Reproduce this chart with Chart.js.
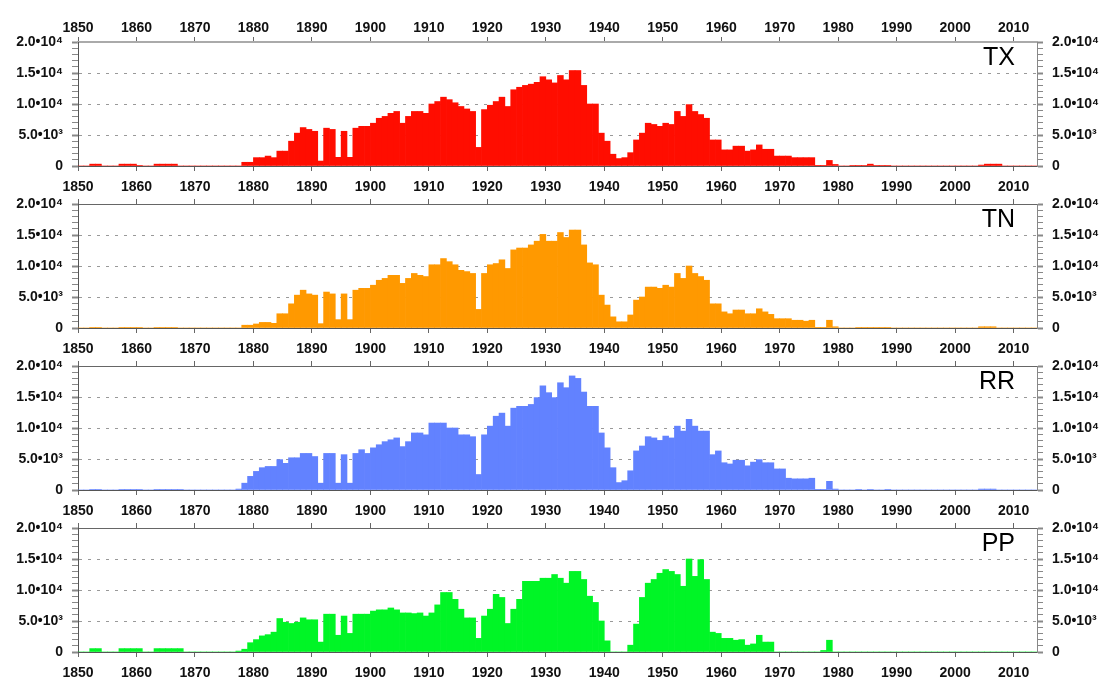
<!DOCTYPE html>
<html>
<head>
<meta charset="utf-8">
<script src="https://cdn.jsdelivr.net/npm/chart.js@4"></script>
<style>
  body { margin: 0; background: #fff; overflow: hidden; }
  #wrap { position: relative; width: 1104px; height: 679px; }
  canvas { position: absolute; left: 0; }
</style>
</head>
<body>
<div id="wrap"></div>
<script>
// one value per year, 1850 .. 2013
const firstYear = 1850;
const xTickYears = [1850, 1860, 1870, 1880, 1890, 1900, 1910, 1920,
                    1930, 1940, 1950, 1960, 1970, 1980, 1990, 2000, 2010];

const tx = [
  0, 0, 300, 300, 0, 0, 0, 300, 300, 300,                              // 1850s
  100, 0, 0, 300, 300, 300, 300, 0, 0, 0,                              // 1860s
  0, 0, 0, 0, 0, 0, 0, 0, 600, 600,                                    // 1870s
  1350, 1350, 1600, 1350, 2400, 2400, 4000, 5300, 6200, 5900,          // 1880s
  5600, 800, 6100, 5900, 1400, 5600, 1400, 6100, 6400, 6400,           // 1890s
  6900, 7700, 8000, 8500, 8800, 6900, 8000, 8800, 8800, 8500,          // 1900s
  10000, 10400, 11100, 10700, 10200, 9600, 9200, 8800, 3000, 9100,     // 1910s
  9800, 10400, 11100, 9600, 12300, 12700, 13000, 13200, 13500, 14400,  // 1920s
  13900, 13400, 14600, 13900, 15400, 15400, 13000, 10000, 10000, 5300, // 1930s
  4000, 1900, 1200, 1350, 2150, 4200, 5300, 6900, 6700, 6400,          // 1940s
  6900, 6700, 8800, 8000, 9900, 8800, 8300, 7700, 4200, 4200,          // 1950s
  2600, 2600, 3200, 3200, 2400, 2600, 3400, 2700, 2700, 1600,          // 1960s
  1600, 1600, 1350, 1350, 1350, 1350, 50, 50, 900, 250,                // 1970s
  0, 0, 100, 100, 100, 300, 100, 100, 100, 0,                          // 1980s
  0, 0, 0, 0, 0, 0, 0, 0, 0, 0,                                        // 1990s
  0, 0, 0, 0, 150, 300, 300, 300, 0, 0,                                // 2000s
  0, 0, 0, 0                                                           // 2010s
];

const tn = [
  0, 0, 100, 100, 0, 0, 0, 100, 100, 100,
  100, 0, 0, 100, 100, 100, 100, 0, 0, 0,
  0, 0, 0, 0, 0, 0, 0, 0, 450, 450,
  650, 900, 900, 750, 2300, 2300, 3900, 5300, 6100, 5500,
  5300, 700, 5800, 5500, 1350, 5500, 1350, 6100, 6400, 6400,
  6900, 7700, 8000, 8500, 8500, 7200, 8000, 8800, 8500, 8300,
  10200, 10200, 11200, 10700, 10200, 9300, 9100, 8800, 3000, 8800,
  10200, 10400, 11000, 9600, 12600, 12900, 12900, 13400, 14000, 15100,
  14000, 14000, 15400, 14600, 15800, 15800, 13400, 10500, 10200, 5300,
  3700, 1800, 1000, 1000, 2100, 4500, 5000, 6600, 6600, 6400,
  6900, 6600, 8800, 8000, 10000, 8800, 8300, 7700, 3900, 3900,
  2600, 2300, 2900, 2900, 2300, 2300, 3100, 2600, 2200, 1500,
  1500, 1500, 1250, 1250, 1100, 1250, 50, 50, 1250, 200,
  0, 0, 0, 100, 100, 100, 100, 100, 100, 0,
  0, 0, 0, 0, 0, 0, 0, 0, 0, 0,
  0, 0, 0, 0, 200, 200, 200, 0, 0, 0,
  0, 0, 0, 0
];

const rr = [
  0, 0, 100, 100, 0, 0, 0, 100, 100, 100,
  100, 0, 0, 100, 100, 100, 100, 100, 0, 0,
  0, 0, 0, 0, 0, 0, 0, 150, 1100, 2200,
  3000, 3600, 3800, 3800, 4900, 4300, 5200, 5200, 5900, 5900,
  5400, 1100, 5900, 5900, 1100, 5700, 1100, 5900, 6500, 5900,
  6800, 7300, 7800, 8100, 8400, 7000, 7800, 9200, 9200, 8900,
  10800, 10800, 10800, 10000, 10000, 8900, 8900, 8600, 2500, 8900,
  10300, 11900, 12400, 10300, 13200, 13500, 13500, 13800, 14900, 16800,
  15700, 14900, 17300, 16500, 18400, 18000, 15800, 13500, 13500, 9200,
  6800, 3600, 1200, 1500, 3100, 6300, 7100, 8600, 8400, 8000,
  8700, 8400, 10300, 9500, 11400, 10300, 9500, 9500, 5700, 6300,
  4400, 4200, 4800, 4800, 3900, 4500, 4900, 4400, 4400, 3400,
  3400, 1900, 1800, 1800, 1800, 1900, 50, 50, 1400, 150,
  0, 0, 0, 100, 0, 100, 0, 0, 100, 0,
  0, 0, 0, 0, 0, 0, 0, 0, 0, 0,
  0, 0, 0, 0, 150, 150, 150, 0, 0, 0,
  0, 0, 0, 0
];

const pp = [
  0, 0, 550, 550, 0, 0, 0, 550, 550, 550,
  550, 0, 0, 550, 550, 550, 550, 550, 0, 0,
  0, 0, 0, 0, 0, 0, 0, 150, 450, 1500,
  2000, 2600, 2800, 3200, 5400, 4800, 4600, 4800, 5500, 5200,
  5200, 1600, 6100, 6100, 2700, 5800, 3000, 6100, 6100, 6100,
  6600, 6800, 6800, 7100, 6800, 6300, 6300, 6200, 6300, 5800,
  6300, 7600, 9600, 9600, 8500, 6900, 5500, 5500, 2200, 5800,
  6900, 9300, 8800, 4600, 6900, 8500, 11400, 11400, 11400, 11900,
  11900, 12500, 11900, 11100, 13000, 13000, 11700, 9000, 8000, 5000,
  1800, 0, 0, 0, 1100, 4500, 8800, 11100, 11700, 12700,
  13300, 13000, 12500, 10600, 15000, 12200, 14900, 11700, 3200, 3000,
  2200, 2200, 1900, 2000, 1100, 1300, 2700, 1600, 1600, 0,
  0, 0, 0, 0, 0, 0, 0, 250, 1900, 0,
  0, 0, 0, 0, 0, 0, 0, 0, 0, 0,
  0, 0, 0, 0, 0, 0, 0, 0, 0, 0,
  0, 0, 0, 0, 0, 0, 0, 0, 0, 0,
  0, 0, 0, 0
];

const panelNames = ['TX', 'TN', 'RR', 'PP'];
const panelColors = ['#ff0d00', '#ff9900', '#6282ff', '#00f526'];
const yTickLabels = { 0: '0', 5000: '5.0\u202210\u00b3', 10000: '1.0\u202210\u2074',
                      15000: '1.5\u202210\u2074', 20000: '2.0\u202210\u2074' };

Chart.defaults.font.family = '"Liberation Sans", Arial, sans-serif';
Chart.defaults.font.size = 14;
Chart.defaults.font.weight = 'bold';
Chart.defaults.color = '#111';

// draws TX / TN / RR / PP in the top right corner of each panel
const panelLabel = {
  id: 'panelLabel',
  afterDraw(chart, args, opts) {
    const { ctx, chartArea } = chart;
    ctx.save();
    ctx.font = '25px "Liberation Sans", Arial, sans-serif';
    ctx.fillStyle = '#000';
    ctx.textAlign = 'right';
    ctx.textBaseline = 'middle';
    ctx.fillText(opts.text, chartArea.right - 22, chartArea.top + 16);
    ctx.restore();
  }
};

const PANEL_STEP = 162;
const TOP_H = 42, PLOT_H = 124, BOTTOM_H = 30, LEFT_W = 78, RIGHT_W = 67;

function decadeTicks(scale) {
  scale.ticks = xTickYears.map(v => ({ value: v }));
}

function yAxis(pos, onArea) {
  return {
    position: pos,
    min: 0, max: 20000,
    afterFit: s => { s.width = pos === 'left' ? LEFT_W : RIGHT_W; },
    ticks: {
      stepSize: 1000, autoSkip: false, padding: 9,
      callback: v => (v in yTickLabels ? yTickLabels[v] : '')
    },
    grid: {
      drawOnChartArea: onArea,
      tickLength: 6,
      tickColor: '#888',
      tickWidth: c => (c.tick && c.tick.value % 5000 === 0 ? 2 : 1),
      color: c => (c.tick && c.tick.value % 5000 === 0 && c.tick.value > 0 && c.tick.value < 20000) ? '#999' : 'rgba(0,0,0,0)'
    },
    border: { color: pos === 'left' ? '#555' : '#888', dash: [3, 6] }
  };
}

function makePanel(i, values) {
  const canvas = document.createElement('canvas');
  canvas.width = 1104;
  canvas.height = TOP_H + PLOT_H + BOTTOM_H;
  canvas.style.top = (i * PANEL_STEP) + 'px';
  document.getElementById('wrap').appendChild(canvas);

  const data = values.map((v, k) => ({ x: firstYear + k + 0.5, y: v }));

  new Chart(canvas, {
    type: 'bar',
    data: {
      datasets: [{
        data: data,
        backgroundColor: panelColors[i],
        borderWidth: 0,
        barPercentage: 1,
        categoryPercentage: 1,
        xAxisID: 'x',
        yAxisID: 'y'
      }]
    },
    options: {
      responsive: false,
      animation: false,
      layout: { padding: 0 },
      plugins: {
        legend: { display: false },
        tooltip: { enabled: false },
        panelLabel: { text: panelNames[i] }
      },
      scales: {
        x: {
          type: 'linear', position: 'bottom', min: 1850, max: 2014, offset: false,
          afterBuildTicks: decadeTicks,
          afterFit: s => { s.height = BOTTOM_H; },
          ticks: { autoSkip: false, padding: 8, maxRotation: 0, callback: v => String(v) },
          grid: { drawOnChartArea: false, offset: false, tickLength: 5, tickColor: '#666' },
          border: { color: '#555' }
        },
        x2: {
          type: 'linear', position: 'top', min: 1850, max: 2014, offset: false,
          afterBuildTicks: decadeTicks,
          afterFit: s => { s.height = TOP_H; },
          ticks: { display: i === 0, autoSkip: false, padding: 0, maxRotation: 0, callback: v => String(v) },
          grid: { drawOnChartArea: false, offset: false, tickLength: 5, tickColor: '#666' },
          border: { color: i === 0 ? '#aaa' : '#666', width: i === 0 ? 2 : 1 }
        },
        y: yAxis('left', true),
        y2: yAxis('right', false)
      }
    },
    plugins: [panelLabel]
  });
}

[tx, tn, rr, pp].forEach((vals, i) => makePanel(i, vals));
</script>
</body>
</html>
